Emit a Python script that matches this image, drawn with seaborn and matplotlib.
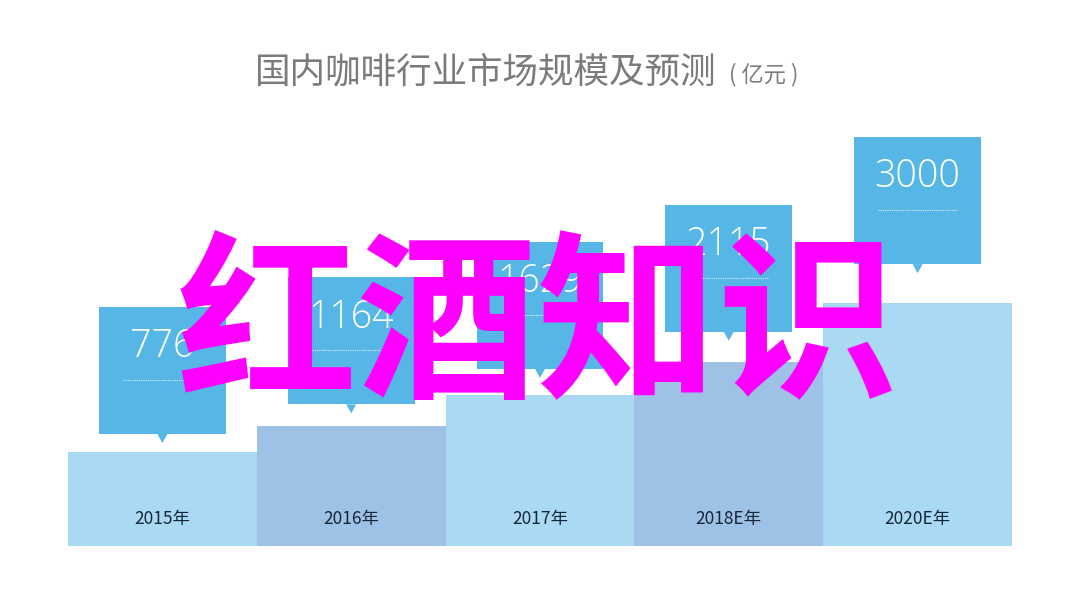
import numpy as np
import pandas as pd
import matplotlib
matplotlib.use("Agg")
import matplotlib.pyplot as plt
from matplotlib.patches import Rectangle, Polygon
import seaborn as sns

# chart data
years = ['2015年', '2016年', '2017年', '2018E年', '2020E年']
market_size = [776, 1164, 1629, 2115, 3000]
title_main = '国内咖啡行业市场规模及预测'
title_unit = '( 亿元 )'
overlay_text = '红酒知识'

# styling
bar_colors = ['#aadaf3', '#9dc2e6', '#aadaf3', '#9dc2e6', '#aadaf3']
box_color = '#56b6e6'
base = -627          # value at the bottom edge of the bars
px_per_unit = 0.067  # vertical pixels per value unit
box_scale = 1.14     # callouts climb a little faster than the bars


def draw_chart():
    sns.set_theme(style='white')
    plt.rcParams['font.family'] = ['Noto Sans CJK SC', 'DejaVu Sans']

    fig = plt.figure(figsize=(10.8, 6.08), dpi=100)
    ax_bottom_px, ax_top_px = 546, 110
    ax = fig.add_axes([68 / 1080, (608 - ax_bottom_px) / 608,
                       (1012 - 68) / 1080, (ax_bottom_px - ax_top_px) / 608])

    df = pd.DataFrame({'year': years, 'value': market_size})
    df['height'] = df['value'] - base
    sns.barplot(data=df, x='year', y='height', hue='year', palette=bar_colors,
                saturation=1, width=1.0, bottom=base, legend=False, ax=ax,
                linewidth=0)

    ax.set_xlim(-0.5, len(years) - 0.5)
    ax.set_ylim(base, base + (ax_bottom_px - ax_top_px) / px_per_unit)
    ax.axis('off')

    # callout boxes above each bar
    box_w = 127 / 189
    box_h = 127 / px_per_unit
    tri_w = 10 / 189
    tri_h = 9 / px_per_unit
    for i, v in enumerate(market_size):
        y0 = base + box_scale * (v - base) + 72
        ax.add_patch(Rectangle((i - box_w / 2, y0), box_w, box_h,
                               facecolor=box_color, edgecolor='none', zorder=3))
        ax.add_patch(Polygon([(i - tri_w / 2, y0), (i + tri_w / 2, y0), (i, y0 - tri_h)],
                             closed=True, facecolor=box_color, edgecolor='none', zorder=3))
        ax.text(i, y0 + box_h - 40 / px_per_unit, str(v), ha='center', va='center',
                color='white', fontsize=27, family=['Open Sans', 'DejaVu Sans'],
                fontweight='light', zorder=4)
        ly = y0 + box_h - 73 / px_per_unit
        ax.plot([i - 0.21, i + 0.21], [ly, ly], color='white', lw=0.8,
                ls=(0, (1, 1)), alpha=0.8, zorder=4)
        # year label inside the bar
        ax.text(i, base + 27 / px_per_unit, years[i], ha='center', va='center',
                color='#16263a', fontsize=12.5, zorder=4)

    # title
    fig.text(255 / 1080, 1 - 72 / 608, title_main, ha='left', va='center',
             color='#7b7b7b', fontsize=25.6)
    fig.text(729 / 1080, 1 - 75 / 608, title_unit, ha='left', va='center',
             color='#7b7b7b', fontsize=16)

    # overlay
    fig.text(538 / 1080, 1 - 332 / 608, overlay_text, ha='center', va='center',
             color='#ff00ff', fontsize=130, fontweight='bold', zorder=10)

    fig.savefig('out.png', dpi=100, facecolor='white')


if __name__ == '__main__':
    draw_chart()
